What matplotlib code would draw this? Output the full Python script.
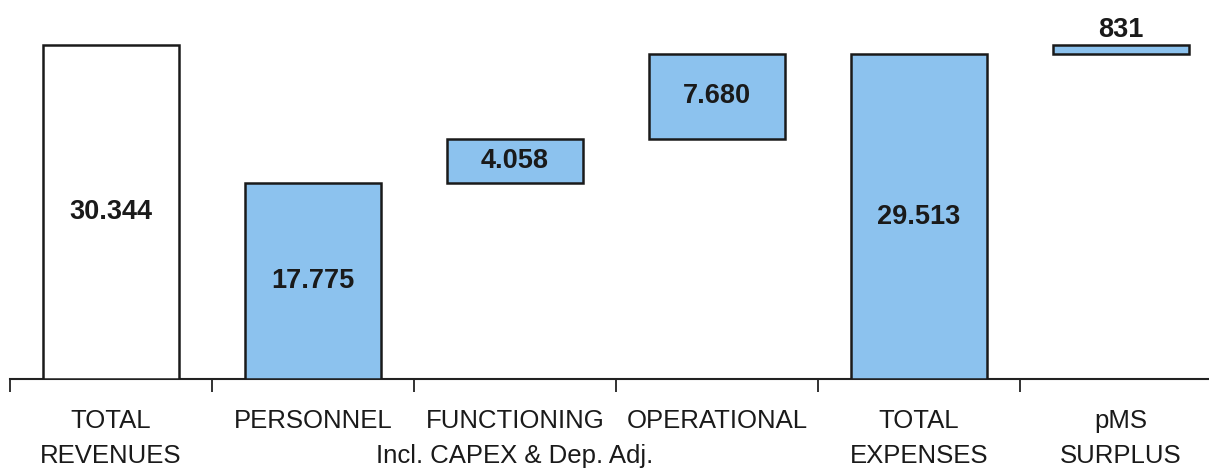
import matplotlib
matplotlib.use("Agg")
import matplotlib.pyplot as plt
from matplotlib import font_manager

names = {f.name for f in font_manager.fontManager.ttflist}
FONT = "Liberation Sans Narrow" if "Liberation Sans Narrow" in names else "Liberation Sans"
plt.rcParams['font.family'] = [FONT, 'DejaVu Sans']

categories = ["TOTAL\nREVENUES", "PERSONNEL", "FUNCTIONING\nIncl. CAPEX & Dep. Adj.",
              "OPERATIONAL", "TOTAL\nEXPENSES", "pMS\nSURPLUS"]
values = [30344, 17775, 4058, 7680, 29513, 831]
labels = ["30.344", "17.775", "4.058", "7.680", "29.513", "831"]
kinds = ["total", "step", "step", "step", "total", "step"]

# waterfall bottoms: totals stand on zero, steps stack on running sum of steps
bottoms = []
running = 0
for v, k in zip(values, kinds):
    if k == "total":
        bottoms.append(0)
    else:
        bottoms.append(running)
        running += v

fills = ["white", "#8CC2EE", "#8CC2EE", "#8CC2EE", "#8CC2EE", "#8CC2EE"]

W, H = 1209, 469
fig = plt.figure(figsize=(W / 100, H / 100), dpi=100)
ax = fig.add_axes([10 / W, (H - 379) / H, 1199 / W, 379 / H])

x = list(range(len(values)))
ax.bar(x, values, bottom=bottoms, width=0.673, color=fills,
       edgecolor="#1a1a1a", linewidth=1.8, zorder=3)

for i, (v, b, lab) in enumerate(zip(values, bottoms, labels)):
    if v < 2000:
        ax.text(i, b + v + 150, lab, ha="center", va="bottom", fontsize=19.5,
                fontweight="bold", color="#1a1a1a")
    else:
        ax.text(i, b + v / 2, lab, ha="center", va="center", fontsize=19.5,
                fontweight="bold", color="#1a1a1a")

ax.set_xlim(-0.5, 5.436)
ax.set_ylim(0, 34430)
for s in ["top", "right", "left"]:
    ax.spines[s].set_visible(False)
ax.spines["bottom"].set_linewidth(1.5)
ax.spines["bottom"].set_color("#222222")
ax.set_yticks([])
ax.set_xticks([i - 0.5 for i in range(len(values))])
ax.set_xticklabels([])
ax.tick_params(axis="x", direction="out", length=9, width=1.3, color="#222222")

# category labels, one text per line
tr = ax.get_xaxis_transform()
line_y = [-0.129, -0.2216]
for i, c in enumerate(categories):
    for j, line in enumerate(c.split("\n")):
        ax.text(i, line_y[j], line, transform=tr, ha="center", va="baseline",
                fontsize=18.5, color="#1a1a1a")

fig.savefig("out.png", dpi=100)
